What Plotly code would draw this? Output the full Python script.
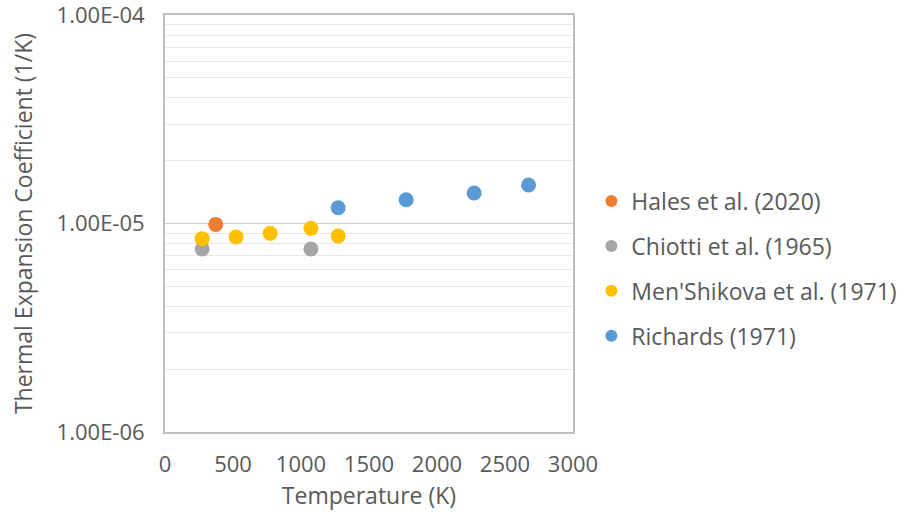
import plotly.graph_objects as go

# Data
hales_T = [373]
hales_a = [9.9e-6]
chiotti_T = [273, 1073]
chiotti_a = [7.55e-6, 7.55e-6]
mensh_T = [273, 523, 773, 1073, 1273]
mensh_a = [8.46e-6, 8.62e-6, 8.97e-6, 9.48e-6, 8.71e-6]
rich_T = [1273, 1773, 2273, 2673]
rich_a = [1.19e-5, 1.30e-5, 1.40e-5, 1.53e-5]

series_names = ["Hales et al. (2020)", "Chiotti et al. (1965)",
                "Men'Shikova et al. (1971)", "Richards (1971)"]
series_colors = ["#ED7D31", "#A5A5A5", "#FFC000", "#5B9BD5"]

y_tick_vals = [1e-6, 1e-5, 1e-4]
y_tick_text = ["1.00E-06", "1.00E-05", "1.00E-04"]
x_tick_vals = [0, 500, 1000, 1500, 2000, 2500, 3000]

FONT = "'Open Sans', sans-serif"
TXT = "#595959"

fig = go.Figure()
for i, (T, a) in enumerate([(hales_T, hales_a), (chiotti_T, chiotti_a),
                            (mensh_T, mensh_a), (rich_T, rich_a)]):
    fig.add_trace(go.Scatter(
        x=T, y=a, mode="markers", name=series_names[i],
        legendgroup=f"g{i}",
        marker=dict(color=series_colors[i], size=15, line=dict(width=0)),
    ))

fig.update_layout(
    width=910, height=521,
    margin=dict(l=165, r=337, t=15, b=89, autoexpand=False),
    paper_bgcolor="white", plot_bgcolor="white",
    font=dict(family=FONT, size=22, color=TXT),
    legend=dict(x=1.045, y=0.392, xanchor="left", yanchor="middle",
                tracegroupgap=12, font=dict(size=23, color=TXT),
                itemsizing="constant"),
    showlegend=True,
)
fig.update_xaxes(
    range=[0, 3000], tickvals=x_tick_vals, showgrid=False, zeroline=False,
    showline=True, linecolor="#BFBFBF", linewidth=2, mirror=True,
    ticks="", ticklabelstandoff=12, tickfont=dict(size=22, color=TXT),
    automargin=False, ticklabeloverflow="allow",
    title=dict(text="Temperature (K)", font=dict(size=23, color=TXT), standoff=10),
)
fig.update_yaxes(
    type="log", range=[-6, -4], tickvals=y_tick_vals, ticktext=y_tick_text,
    showgrid=True, gridcolor="#D0D0D0", gridwidth=1,
    minor=dict(dtick="D1", showgrid=True, gridcolor="#E6E6E6", gridwidth=1, ticks=""),
    zeroline=False, showline=True, linecolor="#BFBFBF", linewidth=2, mirror=True,
    ticks="", ticklabelstandoff=14, tickfont=dict(size=22, color=TXT),
    automargin=False, ticklabeloverflow="allow",
    title=dict(text="Thermal Expansion Coefficient (1/K)", font=dict(size=23, color=TXT), standoff=18),
)

fig.write_html("out.html")
